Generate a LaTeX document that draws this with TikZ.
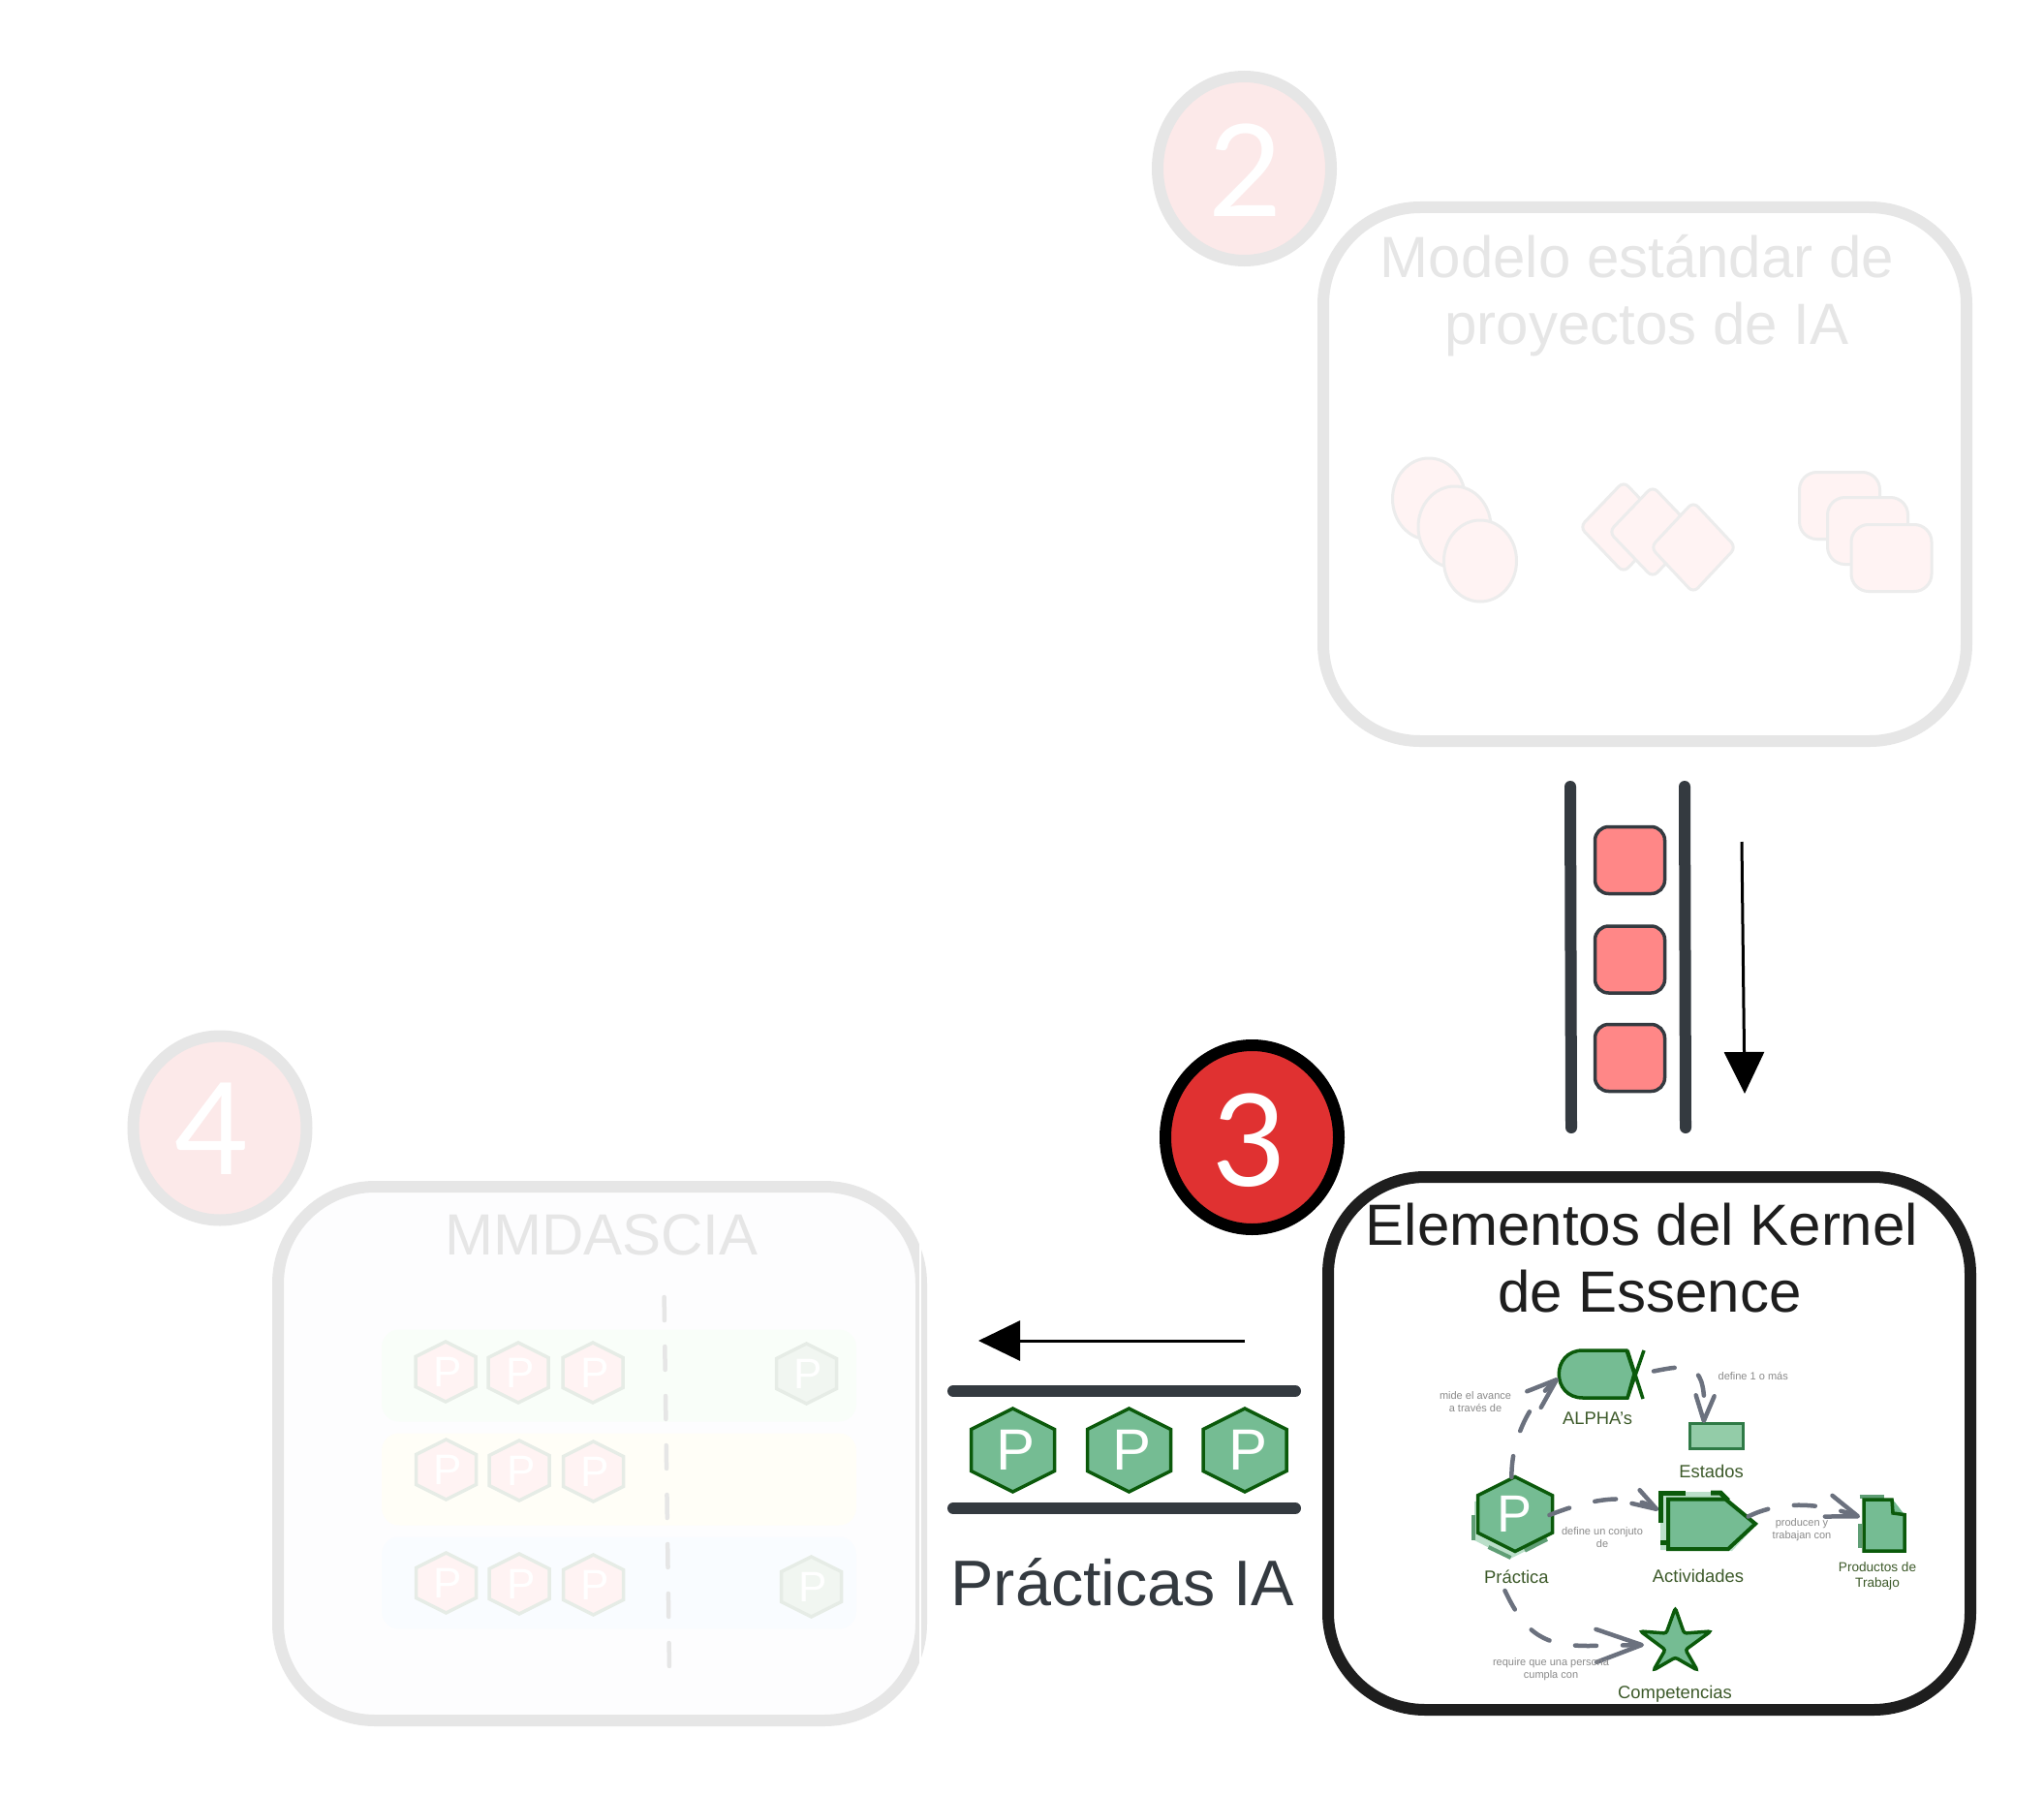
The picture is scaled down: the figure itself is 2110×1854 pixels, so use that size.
\documentclass[tikz,border=0pt]{standalone}
\usepackage{fontspec}
\setmainfont{Liberation Sans}
\newfontfamily\digitfont{Lato}
\usetikzlibrary{arrows.meta,shapes.geometric,calc}
\definecolor{faint}{HTML}{E6E6E6}
\definecolor{faintsoft}{HTML}{ECECEC}
\definecolor{pinkbg}{HTML}{FCE9E9}
\definecolor{pinksoft}{HTML}{FFF3F3}
\definecolor{hexedge}{HTML}{E6ECE6}
\definecolor{hexgreen}{HTML}{F1F6F1}
\definecolor{slate}{HTML}{343A40}
\definecolor{ink}{HTML}{1E1E1E}
\definecolor{kgreen}{HTML}{75BC93}
\definecolor{kdark}{HTML}{0B5A0B}
\definecolor{klight}{HTML}{BADFC9}
\definecolor{kmid}{HTML}{5F9E75}
\definecolor{klabel}{HTML}{3D5A2A}
\definecolor{conn}{HTML}{6B717E}
\definecolor{graylab}{HTML}{8A8A8A}
\definecolor{salmon}{HTML}{FF8787}
\definecolor{redbg}{HTML}{E03131}
\definecolor{estedge}{HTML}{2F7A46}
\definecolor{estfill}{HTML}{93CCA8}
\definecolor{boxbg}{HTML}{FDFDFE}
\definecolor{lanea}{HTML}{F9FEF9}
\definecolor{laneb}{HTML}{FFFEF7}
\definecolor{lanec}{HTML}{F9FCFF}
\newcommand{\fs}[1]{\fontsize{#1}{#1}\selectfont}
\newcommand{\hexP}[5]{%
  \draw[#4,shift={(#2)}] (0,-#3) -- (#3,-.5*#3) -- (#3,.5*#3) -- (0,#3) -- (-#3,.5*#3) -- (-#3,-.5*#3) -- cycle;
  \node[#5] (#1) at (#2) {P};}
\tikzset{
  bigbox/.style={draw,rectangle,rounded corners=100pt,line width=12pt,inner sep=0pt},
  badge/.style={draw,ellipse,line width=12pt,inner sep=0pt,minimum width=179pt,minimum height=190pt},
  digit/.style={inner sep=0pt,text=white,font=\digitfont\fs{132}},
  softtitle/.style={anchor=base,inner sep=0pt,text=faint,align=center,font=\fs{60}},
  inktitle/.style={anchor=base,inner sep=0pt,text=ink,font=\fs{60}},
  softell/.style={draw=faintsoft,fill=pinksoft,line width=3pt,ellipse,inner sep=0pt,minimum width=75pt,minimum height=84pt},
  softdia/.style={draw=faintsoft,fill=pinksoft,line width=3pt,rounded corners=7pt},
  softsq/.style={draw=faintsoft,fill=pinksoft,line width=3pt,rectangle,rounded corners=18pt,inner sep=0pt,minimum width=83pt,minimum height=69pt},
  lane/.style={rectangle,rounded corners=18pt,inner sep=0pt,minimum width=490pt,minimum height=95pt},
  softhex/.style={draw=hexedge,fill=pinksoft,line width=3.5pt},
  softhexg/.style={draw=hexedge,fill=hexgreen,line width=3.5pt},
  softp/.style={inner sep=0pt,text=white,font=\fs{44},xshift=2pt},
  bar/.style={draw=slate,line width=12pt,line cap=round},
  pinksq/.style={draw=slate,fill=salmon,line width=3.5pt,rectangle,rounded corners=14pt,inner sep=0pt,minimum width=72pt,minimum height=69pt},
  bigarrow/.style={draw=black,line width=3pt,-{Triangle[length=43pt,width=41pt]}},
  kshape/.style={draw=kdark,fill=kgreen,line width=3.5pt,line join=miter},
  khex/.style={draw=kdark,fill=kgreen,line width=3.5pt},
  kp/.style={inner sep=0pt,text=white},
  kdash/.style={draw=kmid,line width=4pt},
  kedge/.style={draw=kdark,line width=5pt},
  klab/.style={anchor=base,inner sep=0pt,text=klabel,font=\fs{18.4}},
  klabs/.style={inner sep=0pt,text=klabel,align=center,font=\fontsize{13.6}{16}\selectfont},
  glab/.style={inner sep=0pt,text=graylab,align=center,font=\fontsize{11}{13}\selectfont},
  link/.style={draw=conn,line width=4.5pt,line cap=round,dash pattern=on 22pt off 27pt},
  barb/.style 2 args={-{Straight Barb[length=#1pt,width=#2pt,round]}},
}
\begin{document}
\begin{tikzpicture}[x=1pt,y=-1pt]
\path[use as bounding box,fill=white] (0,0) rectangle (2110,1854);

% ---- box 2
\node[badge,draw=faint,fill=pinkbg] (b2) at (1284.5,174) {};
\node[digit] (d2) at (1286,176) {2};
\node[bigbox,draw=faint,fill=white,minimum width=664pt,minimum height=551pt] (box2) at (1698,489.5) {};
\node[softtitle] (t2a) at (1690,286) {Modelo estándar de};
\node[softtitle] (t2b) at (1700,355) {proyectos de IA};
\node[softell] (e1) at (1475,515) {};
\node[softell] (e2) at (1501.5,544) {};
\node[softell] (e3) at (1528,579) {};
\draw[softdia] (1676,497) -- (1721,544) -- (1676,591) -- (1631,544) -- cycle;
\draw[softdia] (1706,502) -- (1751,549) -- (1706,596) -- (1661,549) -- cycle;
\draw[softdia] (1748,518) -- (1792,565) -- (1748,612) -- (1704,565) -- cycle;
\node[softsq] (s1) at (1899,522) {};
\node[softsq] (s2) at (1928,548) {};
\node[softsq] (s3) at (1952.5,576) {};

% ---- queue of items
\coordinate (qla) at (1621,812); \coordinate (qlb) at (1622,1164);
\coordinate (qra) at (1739,812); \coordinate (qrb) at (1740,1164);
\draw[bar] (qla) -- (qlb);
\draw[bar] (qra) -- (qrb);
\node[pinksq] (q1) at (1682.5,888) {};
\node[pinksq] (q2) at (1682.5,990.5) {};
\node[pinksq] (q3) at (1682.5,1092) {};
\coordinate (da) at (1798,869); \coordinate (db) at (1801,1129);
\draw[bigarrow] (da) -- (db);

% ---- badge 3 and kernel box
\node[badge,draw=black,fill=redbg] (b3) at (1292.5,1174) {};
\node[digit] (d3) at (1290,1177) {3};
\node[bigbox,draw=ink,fill=white,minimum width=663pt,minimum height=550pt] (box3) at (1702.5,1490) {};
\node[inktitle] (t3a) at (1695,1285) {Elementos del Kernel};
\node[inktitle] (t3b) at (1703,1354) {de Essence};

% kernel: Practica
\fill[klight] (1597,1545) -- (1597,1590) -- (1559,1609) -- (1522,1590) -- (1522,1550) -- cycle;
\draw[kdash] (1521,1564) -- (1521,1590);
\draw[kdash] (1536.5,1597) -- (1559.5,1608);
\draw[kdash] (1574,1600.7) -- (1597,1589);
\hexP{kp}{1564,1563}{38.5}{khex}{kp,font=\fs{54},xshift=-1pt}
\node[klab] (lp) at (1565.4,1634) {Práctica};

% kernel: ALPHA
\draw[kdark,line width=3.5pt] (1680,1394) -- (1696,1444);
\draw[kdark,line width=3.5pt] (1697,1394) -- (1680,1443);
\draw[kshape] (1634,1394) -- (1679,1394) -- (1687,1418) -- (1680,1443) -- (1634,1443)
   .. controls (1601,1443) and (1601,1394) .. (1634,1394) -- cycle;
\node[klab] (la) at (1649,1470.6) {ALPHA's};

% kernel: Estados
\node[draw=estedge,fill=estfill,line width=3pt,rectangle,inner sep=0pt,minimum width=55pt,minimum height=26pt] (est) at (1772,1482) {};
\node[klab] (le) at (1766.5,1525) {Estados};

% kernel: Actividades
\fill[klight] (1714,1540) -- (1776,1540) -- (1814,1573) -- (1788,1601) -- (1714,1600) -- cycle;
\draw[kedge] (1714,1572) -- (1714,1541) -- (1740,1541);
\draw[kedge] (1766,1541) -- (1776,1541) -- (1784,1549);
\draw[kedge] (1714,1592) -- (1722,1592);
\draw[kshape,line width=4pt] (1722,1547.5) -- (1781,1547.5) -- (1812,1573) -- (1784,1599) -- (1722,1599) -- cycle;
\node[klab] (lc) at (1753,1633.6) {Actividades};

% kernel: Productos
\draw[kdash] (1919.5,1544.5) -- (1945,1544.5);
\draw[kdash] (1920,1573) -- (1920,1598);
\fill[kgreen] (1954,1548) -- (1966,1563.6) -- (1954,1562) -- cycle;
\draw[kshape,line width=3.5pt] (1924,1548) -- (1953,1548) -- (1954,1562) -- (1966,1563.6) -- (1966,1601) -- (1924,1601) -- cycle;
\node[klabs] (lw) at (1938,1627) {Productos de\\Trabajo};

% kernel: star
\draw[kshape,rounded corners=2.5pt] (1729.4,1660) -- (1738.5,1686) -- (1766,1684) -- (1740,1703) -- (1752,1724)
  -- (1729.4,1711) -- (1707,1724) -- (1719,1703) -- (1693.5,1684) -- (1720,1686) -- cycle;
\node[klab] (ls) at (1729,1753) {Competencias};

% kernel connectors
\coordinate (c1a) at (1560.4,1525); \coordinate (c1b) at (1608.6,1422.7);
\coordinate (c2a) at (1707,1415.5); \coordinate (c2b) at (1758.7,1469);
\coordinate (c3a) at (1599.4,1564); \coordinate (c3b) at (1712,1559);
\coordinate (c4a) at (1804.6,1565.5); \coordinate (c4b) at (1920,1566);
\coordinate (c5a) at (1553.5,1642); \coordinate (c5b) at (1697,1698);
\draw[link,barb={31}{22}] (c1a) .. controls (1560,1490) and (1575,1452) .. (c1b);
\draw[link,barb={26}{19}] (c2a) .. controls (1745,1408) and (1762,1405) .. (c2b);
\draw[link,barb={25}{16}] (c3a) .. controls (1640,1548) and (1680,1540) .. (c3b);
\draw[link,barb={32}{23}] (c4a) .. controls (1840,1548) and (1880,1552) .. (c4b);
\draw[link,barb={47}{34}] (c5a) .. controls (1575,1688) and (1595,1699) .. (1640,1699) -- (c5b);
\node[glab] (g1) at (1523,1447.5) {mide el avance\\a través de};
\node[glab,anchor=base] (g2) at (1809.7,1424.6) {define 1 o más};
\node[glab] (g3) at (1654,1587.5) {define un conjuto\\de};
\node[glab] (g4) at (1860,1579) {producen y\\trabajan con};
\node[glab] (g5) at (1601,1723) {require que una persona\\cumpla con};

% ---- practices band
\coordinate (ta) at (1285,1384); \coordinate (tb) at (1010,1384);
\draw[bigarrow] (ta) -- (tb);
\coordinate (h1a) at (984,1436); \coordinate (h1b) at (1337,1436);
\coordinate (h2a) at (984,1557); \coordinate (h2b) at (1337,1557);
\draw[bar] (h1a) -- (h1b);
\draw[bar] (h2a) -- (h2b);
\hexP{ph1}{1045.5,1497}{43}{khex}{kp,font=\fs{60},xshift=3pt}
\hexP{ph2}{1165.5,1497}{43}{khex}{kp,font=\fs{60},xshift=3pt}
\hexP{ph3}{1285,1497}{43}{khex}{kp,font=\fs{60},xshift=3pt}
\node[anchor=base,inner sep=0pt,text=slate,font=\fs{66.5}] (tp) at (1159,1657) {Prácticas IA};

% ---- badge 4 and MMDASCIA
\node[badge,draw=faint,fill=pinkbg] (b4) at (227,1164.5) {};
\node[digit] (d4) at (219,1165) {4};
\node[bigbox,draw=faint,fill=boxbg,minimum width=664pt,minimum height=551pt] (box4) at (619,1500.5) {};
\node[softtitle] (t4) at (621,1295) {MMDASCIA};
\node[lane,fill=lanea] (l1) at (639,1420) {};
\node[lane,fill=laneb] (l2) at (639,1527) {};
\node[lane,fill=lanec] (l3) at (639,1634) {};
\coordinate (va) at (685.6,1339); \coordinate (vb) at (691,1724);
\draw[draw=faint,line width=4.5pt,line cap=round,dash pattern=on 24pt off 27pt] (va) -- (vb);
\coordinate (wa) at (950,1271); \coordinate (wb) at (950,1718);
\draw[white,line width=1.5pt] (wa) -- (wb);
\hexP{h11}{460,1416}{31}{softhex}{softp}
\hexP{h12}{535,1417}{31}{softhex}{softp}
\hexP{h13}{612,1417}{31}{softhex}{softp}
\hexP{h14}{832.5,1418}{31}{softhexg}{softp}
\hexP{h21}{460.5,1517}{31}{softhex}{softp}
\hexP{h22}{536,1518}{31}{softhex}{softp}
\hexP{h23}{612.5,1519}{31}{softhex}{softp}
\hexP{h31}{460.5,1634}{31}{softhex}{softp}
\hexP{h32}{536,1635}{31}{softhex}{softp}
\hexP{h33}{612.5,1636}{31}{softhex}{softp}
\hexP{h34}{837.5,1638}{31}{softhexg}{softp}
\end{tikzpicture}
\end{document}
